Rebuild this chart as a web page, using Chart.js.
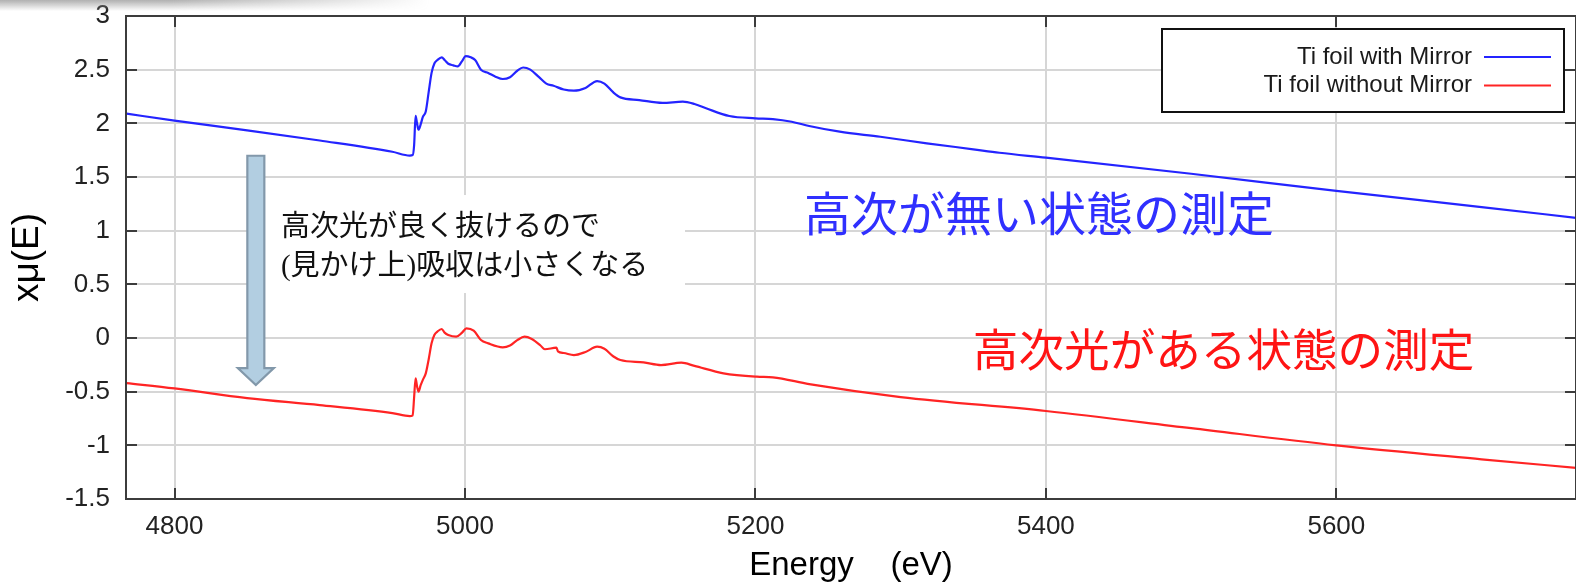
<!DOCTYPE html>
<html>
<head>
<meta charset="utf-8">
<script src="https://cdn.jsdelivr.net/npm/chart.js@4.4.1/dist/chart.umd.min.js"></script>
<style>
  html, body { margin: 0; padding: 0; background: #fff; overflow: hidden; }
  #wrap { position: relative; width: 1576px; height: 588px; }
  canvas { display: block; }
  #shade {
    position: absolute; left: 0; top: 0; width: 430px; height: 11px; pointer-events: none;
    background: linear-gradient(to bottom, rgba(150,150,150,0.75), rgba(255,255,255,0));
    -webkit-mask-image: linear-gradient(to right, #000 40%, transparent);
    mask-image: linear-gradient(to right, #000 40%, transparent);
  }
</style>
</head>
<body>
<div id="wrap">
  <canvas id="c" width="1576" height="588"></canvas>
  <div id="shade"></div>
</div>
<script>
// Ti K-edge XAFS spectra, x mu(E) versus photon energy (eV)
const energyMirror = [4767, 4800, 4850, 4900, 4950, 4962, 4964, 4965, 4966, 4967, 4968, 4969.5, 4971, 4973, 4975, 4977, 4979, 4981, 4984, 4986, 4988.5, 4992, 4995, 4998, 5000.5, 5004, 5007, 5011, 5016, 5021, 5026, 5031, 5036, 5040, 5045, 5051, 5056, 5061, 5068, 5075, 5083, 5091, 5096, 5102, 5107, 5120, 5136, 5150, 5158, 5166, 5182, 5200, 5212, 5225, 5237, 5258, 5286, 5318, 5350, 5368, 5400, 5500, 5600, 5700, 5765];
const muMirror = [2.09, 2.025, 1.935, 1.84, 1.735, 1.70, 1.705, 1.80, 2.07, 2.00, 1.94, 1.99, 2.06, 2.11, 2.29, 2.47, 2.56, 2.59, 2.615, 2.59, 2.555, 2.54, 2.53, 2.58, 2.627, 2.615, 2.59, 2.50, 2.47, 2.435, 2.413, 2.43, 2.49, 2.52, 2.50, 2.43, 2.37, 2.35, 2.315, 2.304, 2.33, 2.394, 2.37, 2.29, 2.242, 2.217, 2.19, 2.202, 2.18, 2.14, 2.068, 2.047, 2.04, 2.015, 1.975, 1.922, 1.875, 1.814, 1.758, 1.726, 1.68, 1.53, 1.37, 1.22, 1.12];

const energyNoMirror = [4767, 4800, 4850, 4900, 4950, 4962, 4964, 4965, 4966, 4967, 4968, 4969.5, 4971, 4973, 4975, 4977, 4979, 4981, 4984, 4986, 4988.5, 4994, 4998, 5001, 5006, 5011, 5016, 5026, 5031, 5036, 5041, 5046, 5052, 5055, 5063, 5064, 5068, 5075, 5083, 5091, 5096, 5102, 5107, 5123, 5135, 5149, 5158, 5178, 5201, 5212, 5237, 5300, 5400, 5500, 5600, 5700, 5765];
const muNoMirror = [-0.42, -0.47, -0.56, -0.625, -0.70, -0.727, -0.72, -0.55, -0.375, -0.45, -0.50, -0.44, -0.39, -0.33, -0.20, -0.05, 0.03, 0.06, 0.084, 0.05, 0.028, 0.012, 0.05, 0.09, 0.068, -0.019, -0.05, -0.087, -0.07, -0.02, 0.012, -0.01, -0.07, -0.105, -0.09, -0.125, -0.14, -0.159, -0.13, -0.081, -0.10, -0.17, -0.205, -0.227, -0.252, -0.23, -0.26, -0.329, -0.36, -0.366, -0.429, -0.55, -0.68, -0.84, -1.00, -1.13, -1.21];

const seriesNames = ['Ti foil with Mirror', 'Ti foil without Mirror'];
const seriesColors = ['#2424ff', '#ff2424'];

const xTicks = [4800, 5000, 5200, 5400, 5600];
const yTicks = [3, 2.5, 2, 1.5, 1, 0.5, 0, -0.5, -1, -1.5];
const xRange = [4766.6, 5765];
const yRange = [-1.5, 3];

const xTitle = 'Energy    (eV)';
const yTitle = 'xμ(E)';

const noteLines = ['高次光が良く抜けるので', '(見かけ上)吸収は小さくなる'];
const labelMirror = '高次が無い状態の測定';
const labelNoMirror = '高次光がある状態の測定';

const toPoints = (xs, ys) => xs.map((e, i) => ({ x: e, y: ys[i] }));

const TICK_FONT = '"Liberation Sans Narrow", "Liberation Sans", sans-serif';
const CJK_FONT = '"Liberation Serif", "Noto Sans CJK JP", serif';

// frame, inward ticks, legend box and the annotations
const decor = {
  id: 'decor',
  beforeDatasetsDraw(chart) {
    const { ctx, scales: { x, y } } = chart;
    ctx.save();
    // white panel behind the note
    const bx0 = x.getPixelForValue(4862), bx1 = x.getPixelForValue(5151.5);
    const by0 = y.getPixelForValue(1.332), by1 = y.getPixelForValue(0.419);
    ctx.fillStyle = '#ffffff';
    ctx.fillRect(bx0, by0, bx1 - bx0, by1 - by0);

    // downward arrow
    const ax = x.getPixelForValue(4856);
    const aTop = y.getPixelForValue(1.698);
    const aBase = y.getPixelForValue(-0.28);
    const aTip = y.getPixelForValue(-0.438);
    const sw = 8.5, hw = 18;
    ctx.beginPath();
    ctx.moveTo(ax - sw, aTop);
    ctx.lineTo(ax + sw, aTop);
    ctx.lineTo(ax + sw, aBase);
    ctx.lineTo(ax + hw, aBase);
    ctx.lineTo(ax, aTip);
    ctx.lineTo(ax - hw, aBase);
    ctx.lineTo(ax - sw, aBase);
    ctx.closePath();
    ctx.fillStyle = '#b2cee1';
    ctx.fill();
    ctx.strokeStyle = '#8298aa';
    ctx.lineWidth = 2.2;
    ctx.lineJoin = 'miter';
    ctx.stroke();

    // note text
    ctx.fillStyle = '#111';
    ctx.textAlign = 'left';
    ctx.textBaseline = 'middle';
    ctx.font = '29px ' + CJK_FONT;
    const tx = x.getPixelForValue(4873.3);
    ctx.fillText(noteLines[0], tx, y.getPixelForValue(1.025));
    ctx.fillText(noteLines[1], tx, y.getPixelForValue(0.661));

    // series captions
    ctx.font = '47px ' + CJK_FONT;
    ctx.fillStyle = '#3030ff';
    ctx.fillText(labelMirror, x.getPixelForValue(5233.4), y.getPixelForValue(1.109));
    ctx.font = '45.6px ' + CJK_FONT;
    ctx.fillStyle = '#ff1414';
    ctx.fillText(labelNoMirror, x.getPixelForValue(5349.7), y.getPixelForValue(-0.158));
    ctx.restore();
  },
  afterDraw(chart) {
    const { ctx, chartArea: a, scales: { x, y } } = chart;
    ctx.save();
    ctx.strokeStyle = '#3c3c3c';
    ctx.lineWidth = 2;
    ctx.strokeRect(a.left, a.top, a.right - a.left, a.bottom - a.top);
    const tl = 11;
    ctx.beginPath();
    xTicks.forEach(v => {
      const px = Math.round(x.getPixelForValue(v));
      ctx.moveTo(px, a.bottom); ctx.lineTo(px, a.bottom - tl);
      ctx.moveTo(px, a.top); ctx.lineTo(px, a.top + tl);
    });
    yTicks.forEach(v => {
      const py = Math.round(y.getPixelForValue(v));
      ctx.moveTo(a.left, py); ctx.lineTo(a.left + tl, py);
      ctx.moveTo(a.right, py); ctx.lineTo(a.right - tl, py);
    });
    ctx.stroke();

    // legend
    const lx1 = a.right - 12, lx0 = lx1 - 402;
    const ly0 = a.top + 13, ly1 = ly0 + 83;
    ctx.fillStyle = '#fff';
    ctx.fillRect(lx0, ly0, lx1 - lx0, ly1 - ly0);
    ctx.strokeStyle = '#111';
    ctx.lineWidth = 2;
    ctx.strokeRect(lx0, ly0, lx1 - lx0, ly1 - ly0);
    ctx.font = '24px "Liberation Sans", sans-serif';
    ctx.textAlign = 'right';
    ctx.textBaseline = 'middle';
    chart.data.datasets.forEach((ds, i) => {
      const ry = ly0 + 28 + i * 28.5;
      ctx.fillStyle = '#1a1a1a';
      ctx.fillText(ds.label, lx1 - 92, ry);
      ctx.strokeStyle = ds.borderColor;
      ctx.lineWidth = 2;
      ctx.beginPath();
      ctx.moveTo(lx1 - 80, ry); ctx.lineTo(lx1 - 13, ry);
      ctx.stroke();
    });
    ctx.restore();
  }
};

new Chart(document.getElementById('c'), {
  type: 'line',
  data: {
    datasets: [
      { label: seriesNames[0], data: toPoints(energyMirror, muMirror), borderColor: seriesColors[0] },
      { label: seriesNames[1], data: toPoints(energyNoMirror, muNoMirror), borderColor: seriesColors[1] }
    ]
  },
  options: {
    responsive: false,
    animation: false,
    devicePixelRatio: 1,
    layout: { padding: { top: 16, right: 0, left: 0, bottom: 0 } },
    elements: {
      point: { radius: 0 },
      line: { borderWidth: 2.2, cubicInterpolationMode: 'monotone', fill: false }
    },
    plugins: { legend: { display: false }, tooltip: { enabled: false } },
    scales: {
      x: {
        type: 'linear',
        min: xRange[0], max: xRange[1],
        afterBuildTicks: s => { s.ticks = xTicks.map(v => ({ value: v })); },
        afterFit: s => { s.height = 89; s.paddingLeft = 0; s.paddingRight = 0; },
        grid: { color: '#d6d6d6', lineWidth: 2, drawTicks: false },
        border: { display: false },
        ticks: {
          padding: 12, color: '#222',
          font: { family: TICK_FONT, size: 26 },
          callback: v => String(v)
        },
        title: {
          display: true, text: xTitle, color: '#000',
          font: { family: '"Liberation Sans", Arial, sans-serif', size: 33 },
          padding: { top: 0, bottom: 2 }
        }
      },
      y: {
        type: 'linear',
        min: yRange[0], max: yRange[1],
        afterBuildTicks: s => { s.ticks = yTicks.map(v => ({ value: v })); },
        afterFit: s => { s.width = 126; s.paddingTop = 0; s.paddingBottom = 0; },
        grid: { color: '#d6d6d6', lineWidth: 2, drawTicks: false },
        border: { display: false },
        ticks: {
          padding: 16, color: '#222',
          font: { family: TICK_FONT, size: 26 },
          callback: v => String(v)
        },
        title: {
          display: true, text: yTitle, color: '#000',
          font: { family: '"Liberation Sans", Arial, sans-serif', size: 37 },
          padding: { top: 6, bottom: 0 }
        }
      }
    }
  },
  plugins: [decor]
});
</script>
